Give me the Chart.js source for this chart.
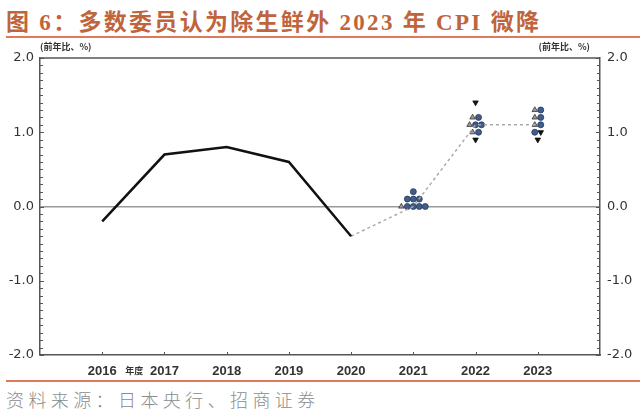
<!DOCTYPE html>
<html>
<head>
<meta charset="utf-8">
<script src="https://cdn.jsdelivr.net/npm/chart.js@4.4.0/dist/chart.umd.min.js"></script>
<style>
body { margin: 0; width: 640px; height: 413px; background: #fff; position: relative; overflow: hidden; }
#title { position: absolute; left: 6px; top: 3px; font: bold 23px "Liberation Serif", "Noto Sans CJK SC"; color: #c0643c; letter-spacing: 2.3px; white-space: nowrap; }
.rule { position: absolute; left: 6px; right: 0; height: 2px; background: #dd7a5c; }
#box { position: absolute; left: 0; top: 40px; width: 640px; height: 340px; }
#src { position: absolute; left: 6px; top: 386px; font: 300 18px "Noto Sans CJK SC"; color: #8c8c8c; letter-spacing: 4.4px; white-space: nowrap; }
</style>
</head>
<body>
<div id="title">图 6：多数委员认为除生鲜外 2023 年 CPI 微降</div>
<div class="rule" style="top:36px"></div>
<div id="box"><canvas id="cpiChart" width="640" height="340"></canvas></div>
<div class="rule" style="top:380px"></div>
<div id="src">资料来源：日本央行、招商证券</div>

<script>
const years = [2016, 2017, 2018, 2019, 2020, 2021, 2022, 2023];
const actualYears = [2016, 2017, 2018, 2019, 2020];
const actualCpi = [-0.2, 0.7, 0.8, 0.6, -0.4];
const medianYears = [2020, 2021, 2022, 2023];
const medianCpi = [-0.4, 0.0, 1.1, 1.1];
const forecastYears = [2021, 2022, 2023];
// each board member's forecast, split by risk balance
const upside = [[0.0], [1.2, 1.1, 1.0], [1.3, 1.2, 1.1]];
const balanced = [[0.0, 0.0, 0.0, 0.0, 0.1, 0.1, 0.1, 0.2], [1.2, 1.1, 1.1, 1.0], [1.3, 1.2, 1.1, 1.0]];
const downside = [[], [1.4, 0.9], [1.0, 0.9]];
const yTicks = [-2, -1, 0, 1, 2];

// lay dots side by side within each value row: up, balanced, down
const step = 0.096;
const pts = { up: [], bal: [], down: [] };
forecastYears.forEach((yr, i) => {
    let rows = {};
    const add = (kind, v) => { (rows[v] = rows[v] || []).push(kind); };
    upside[i].forEach(v => add("up", v));
    balanced[i].forEach(v => add("bal", v));
    downside[i].forEach(v => add("down", v));
    Object.keys(rows).forEach(v => {
        let r = rows[v];
        r.forEach((kind, j) => pts[kind].push({ x: yr + (j - (r.length - 1) / 2) * step, y: +v }));
    });
});

const tickFont = { family: "DejaVu Sans", size: 13 };

const decor = {
    id: "decor",
    afterDraw(chart) {
        const ctx = chart.ctx;
        const a = chart.chartArea;
        const x = chart.scales.x, y = chart.scales.y;
        ctx.save();
        ctx.strokeStyle = "#555";
        ctx.lineWidth = 1.5;
        ctx.beginPath();
        ctx.moveTo(a.left, a.top);
        ctx.lineTo(a.right, a.top);
        ctx.stroke();
        ctx.lineWidth = 1;
        ctx.beginPath();
        for (let k = -20; k <= 20; k++) {
            let py = Math.round(y.getPixelForValue(k / 10)) + 0.5;
            let len = k % 10 === 0 ? 4 : 3;
            ctx.moveTo(a.left, py); ctx.lineTo(a.left + len, py);
            ctx.moveTo(a.right, py); ctx.lineTo(a.right - len, py);
        }
        years.forEach(v => {
            let px = Math.round(x.getPixelForValue(v)) + 0.5;
            ctx.moveTo(px, a.bottom); ctx.lineTo(px, a.bottom - 3);
        });
        ctx.stroke();

        ctx.fillStyle = "#333";
        ctx.font = "bold 9px 'Noto Sans CJK SC'";
        ctx.textBaseline = "middle";
        ctx.textAlign = "center";
        ctx.fillText("年度", (x.getPixelForValue(2016) + x.getPixelForValue(2017)) / 2 + 1, a.bottom + 16);
        ctx.textAlign = "left";
        ctx.fillText("(前年比、%)", a.left, a.top - 11);
        ctx.textAlign = "right";
        ctx.fillText("(前年比、%)", a.right - 10, a.top - 11);
        ctx.restore();
    }
};

new Chart(document.getElementById("cpiChart"), {
    type: "scatter",
    data: {
        datasets: [
            { data: actualYears.map((v, i) => ({ x: v, y: actualCpi[i] })), showLine: true, borderColor: "#111", borderWidth: 2.5, pointRadius: 0 },
            { data: medianYears.map((v, i) => ({ x: v, y: medianCpi[i] })), showLine: true, borderColor: "#aaa", borderWidth: 1.5, borderDash: [3, 3], pointRadius: 0 },
            { data: pts.bal, pointStyle: "circle", pointRadius: 3, backgroundColor: "#3f5e90", borderColor: "#263552", borderWidth: 0.8 },
            { data: pts.up, pointStyle: "triangle", pointRadius: 3.2, backgroundColor: "#9a9a9a", borderColor: "#333", borderWidth: 0.8 },
            { data: pts.down, pointStyle: "triangle", rotation: 180, pointRadius: 3.2, backgroundColor: "#111", borderColor: "#111", borderWidth: 0.8 }
        ]
    },
    options: {
        responsive: false,
        animation: false,
        layout: { padding: { top: 18 } },
        plugins: { legend: { display: false }, tooltip: { enabled: false } },
        scales: {
            x: {
                type: "linear", min: 2015, max: 2024,
                afterBuildTicks: s => { s.ticks = years.map(v => ({ value: v })); },
                ticks: { color: "#333", font: { family: "Liberation Sans", size: 13, weight: "bold" }, padding: 9, maxRotation: 0, callback: v => String(v) },
                grid: { display: false, drawTicks: false },
                border: { color: "#555", width: 1.5 },
                afterFit: s => { s.height = 25; }
            },
            y: {
                position: "left", min: -2, max: 2,
                afterBuildTicks: s => { s.ticks = yTicks.map(v => ({ value: v })); },
                ticks: { color: "#333", font: tickFont, padding: 6, callback: v => v.toFixed(1) },
                grid: { color: c => c.tick.value === 0 ? "#999" : "rgba(0,0,0,0)", lineWidth: 1.5, drawTicks: false },
                border: { color: "#555", width: 1.5 },
                afterFit: s => { s.width = 40; }
            },
            y2: {
                position: "right", min: -2, max: 2,
                afterBuildTicks: s => { s.ticks = yTicks.map(v => ({ value: v })); },
                ticks: { color: "#333", font: tickFont, padding: 7, callback: v => v.toFixed(1) },
                grid: { display: false, drawTicks: false },
                border: { color: "#555", width: 1.5 },
                afterFit: s => { s.width = 40; }
            }
        }
    },
    plugins: [decor]
});
</script>
</body>
</html>
